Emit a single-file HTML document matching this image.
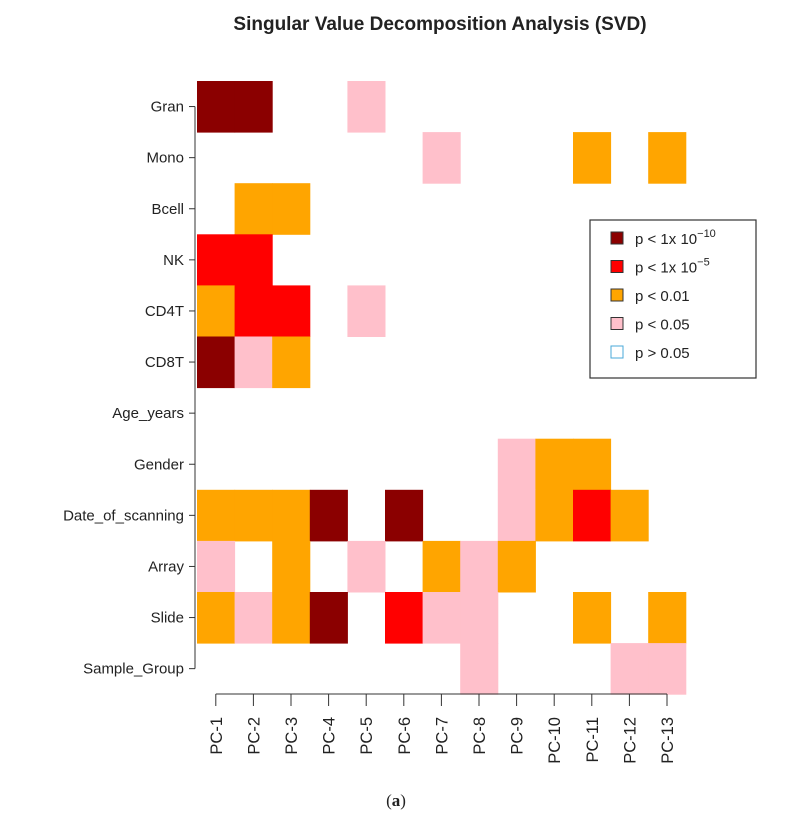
<!DOCTYPE html>
<html><head><meta charset="utf-8"><style>
body{margin:0;background:#fff;}
svg{display:block;font-family:"Liberation Sans",sans-serif;}
</style></head><body>
<svg id="c" width="792" height="822">
<text x="440" y="30" text-anchor="middle" font-size="19" font-weight="bold" fill="#222">Singular Value Decomposition Analysis (SVD)</text>
<g id="cells"></g><g id="axes"></g>
<g>
<rect x="590" y="220" width="166" height="158" fill="#fff" stroke="#333" stroke-width="1.2"/>
<g id="leg"></g>
</g>
<text x="396" y="806" text-anchor="middle" font-size="17" fill="#222" font-family="Liberation Serif,serif">(<tspan font-weight="bold">a</tspan>)</text>
</svg>
<script>
const rows=["Gran","Mono","Bcell","NK","CD4T","CD8T","Age_years","Gender","Date_of_scanning","Array","Slide","Sample_Group"];
const cols=["PC-1","PC-2","PC-3","PC-4","PC-5","PC-6","PC-7","PC-8","PC-9","PC-10","PC-11","PC-12","PC-13"];
// 0:p>0.05 1:p<0.05 2:p<0.01 3:p<1e-5 4:p<1e-10
const gran=[4,4,0,0,1,0,0,0,0,0,0,0,0];
const mono=[0,0,0,0,0,0,1,0,0,0,2,0,2];
const bcell=[0,2,2,0,0,0,0,0,0,0,0,0,0];
const nk=[3,3,0,0,0,0,0,0,0,0,0,0,0];
const cd4t=[2,3,3,0,1,0,0,0,0,0,0,0,0];
const cd8t=[4,1,2,0,0,0,0,0,0,0,0,0,0];
const age=[0,0,0,0,0,0,0,0,0,0,0,0,0];
const gender=[0,0,0,0,0,0,0,0,1,2,2,0,0];
const dateScan=[2,2,2,4,0,4,0,0,1,2,3,2,0];
const arrayV=[1,0,2,0,1,0,2,1,2,0,0,0,0];
const slide=[2,1,2,4,0,3,1,1,0,0,2,0,2];
const sampleGroup=[0,0,0,0,0,0,0,1,0,0,0,1,1];
const levels=[gran,mono,bcell,nk,cd4t,cd8t,age,gender,dateScan,arrayV,slide,sampleGroup];
const legendLabels=["p < 1x 10","p < 1x 10","p < 0.01","p < 0.05","p > 0.05"];
const legendSup=["\u221210","\u22125","","",""];
const colors=["none","#ffc0cb","#ffa500","#ff0000","#8b0000"];
const legendLevels=[4,3,2,1,0];
const NS="http://www.w3.org/2000/svg";
const x0=197,cw=37.6,y0=81,rh=51.1;
const xPos=i=>x0+i*cw, yPos=j=>y0+j*rh;
function mk(t,a,p){const e=document.createElementNS(NS,t);for(const k in a)e.setAttribute(k,a[k]);p.appendChild(e);return e;}
const cells=document.getElementById('cells'),axes=document.getElementById('axes');
levels.forEach((r,j)=>r.forEach((v,i)=>{if(!v)return;
 const e=mk('rect',{x:xPos(i),y:yPos(j),width:cw+0.5,height:rh+0.5,fill:colors[v]},cells);
 
 }));
const yl=mk('line',{x1:195,x2:195,y1:yPos(0)+rh/2,y2:yPos(rows.length-1)+rh/2,stroke:'#333'},axes);

rows.forEach((r,j)=>{const y=yPos(j)+rh/2;
 mk('line',{x1:189,x2:195,y1:y,y2:y,stroke:'#333'},axes);
 const t=mk('text',{x:184,y:y+5,'text-anchor':'end','font-size':15,fill:'#222'},axes);t.textContent=r;
 });
const xl=mk('line',{x1:xPos(0)+cw/2,x2:xPos(12)+cw/2,y1:694,y2:694,stroke:'#333'},axes);

cols.forEach((c,i)=>{const x=xPos(i)+cw/2;
 mk('line',{x1:x,x2:x,y1:694,y2:706,stroke:'#333'},axes);
 const t=mk('text',{x:0,y:0,'text-anchor':'end','font-size':16.5,fill:'#222',transform:`translate(${x+6},717) rotate(-90)`},axes);t.textContent=c;
 });
const leg=document.getElementById('leg');
legendLevels.forEach((v,k)=>{const y=238+k*28.5;
 const s=mk('rect',{x:611,y:y-6,width:12,height:12,fill:v?colors[v]:'#fff',stroke:v?'#333':'#4aa8d8','stroke-width':1},leg);
 
 const t=mk('text',{x:635,y:y+6,'font-size':15,fill:'#222'},leg);t.textContent=legendLabels[k];
 if(legendSup[k]){const ts=mk('tspan',{dy:-7,'font-size':11},t);ts.textContent=legendSup[k];}
 });
</script>
</body></html>
